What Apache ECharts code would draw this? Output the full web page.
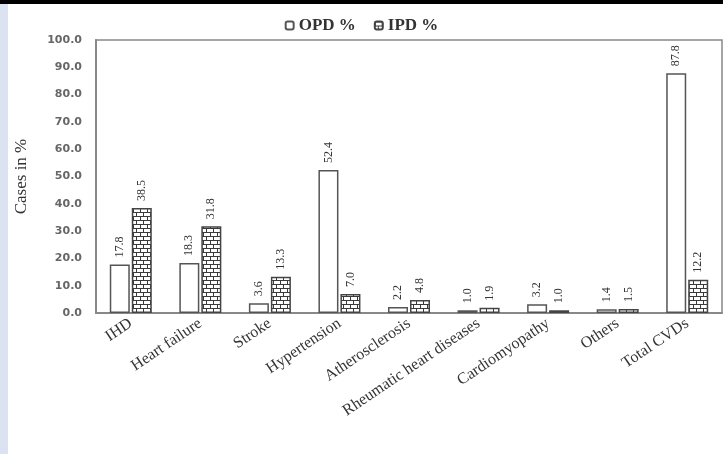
<!DOCTYPE html>
<html>
<head>
<meta charset="utf-8">
<script src="https://cdn.jsdelivr.net/npm/echarts@6/dist/echarts.min.js"></script>
<style>
html,body{margin:0;padding:0;background:#fff;}
#chart{width:723px;height:454px;}
</style>
</head>
<body>
<div id="chart"></div>
<script>
var categories = ['IHD', 'Heart failure', 'Stroke', 'Hypertension', 'Atherosclerosis', 'Rheumatic heart diseases', 'Cardiomyopathy', 'Others', 'Total CVDs'];
var opdValues = [17.8, 18.3, 3.6, 52.4, 2.2, 1.0, 3.2, 1.4, 87.8];
var ipdValues = [38.5, 31.8, 13.3, 7.0, 4.8, 1.9, 1.0, 1.5, 12.2];
var seriesNames = ['OPD %', 'IPD %'];

function brickPattern() {
  var c = document.createElement('canvas');
  c.width = 14; c.height = 8;
  var g = c.getContext('2d');
  g.fillStyle = '#ffffff';
  g.fillRect(0, 0, 14, 8);
  g.strokeStyle = '#3a3a3a';
  g.lineWidth = 1;
  g.beginPath();
  g.moveTo(0, 0.5); g.lineTo(14, 0.5);
  g.moveTo(0, 4.5); g.lineTo(14, 4.5);
  g.moveTo(0.5, 0); g.lineTo(0.5, 4.5);
  g.moveTo(7.5, 0); g.lineTo(7.5, 4.5);
  g.moveTo(3.5, 4.5); g.lineTo(3.5, 8);
  g.moveTo(10.5, 4.5); g.lineTo(10.5, 8);
  g.stroke();
  return c;
}

var chart = echarts.init(document.getElementById('chart'), null, {renderer: 'canvas'});
var labelCfg = {
  show: true,
  position: 'top',
  rotate: 90,
  align: 'left',
  verticalAlign: 'middle',
  distance: 7,
  fontFamily: 'Liberation Serif',
  fontSize: 12,
  color: '#333',
  formatter: function (p) { return p.value.toFixed(1); }
};

chart.setOption({
  animation: false,
  backgroundColor: '#ffffff',
  graphic: [
    {type: 'rect', left: 0, top: 0, shape: {width: 723, height: 4}, style: {fill: '#000'}, z: 100},
    {type: 'rect', left: 0, top: 4, shape: {width: 8, height: 450}, style: {fill: '#dbe3f2'}, z: 100}
  ],
  legend: {
    data: seriesNames,
    top: 12,
    left: 'center',
    itemWidth: 8,
    itemHeight: 8,
    itemGap: 18,
    textStyle: {fontFamily: 'Liberation Serif', fontSize: 17, fontWeight: 'bold', color: '#333'}
  },
  grid: {
    left: 96, right: 1, top: 40, bottom: 141,
    show: true, borderColor: '#888', borderWidth: 1.5, backgroundColor: 'transparent'
  },
  xAxis: {
    type: 'category',
    data: categories,
    axisLine: {lineStyle: {color: '#888', width: 2}},
    axisTick: {show: false},
    axisLabel: {
      interval: 0,
      rotate: 34,
      margin: 9,
      fontFamily: 'Liberation Serif',
      fontSize: 16,
      color: '#333'
    }
  },
  yAxis: {
    type: 'value',
    min: 0, max: 100, interval: 10,
    name: 'Cases in %',
    nameLocation: 'middle',
    nameRotate: 90,
    nameGap: 66,
    nameTextStyle: {fontFamily: 'Liberation Serif', fontSize: 17, color: '#333'},
    axisLine: {show: true, lineStyle: {color: '#888', width: 2}},
    axisTick: {show: false},
    splitLine: {show: false},
    axisLabel: {
      margin: 14,
      fontFamily: 'DejaVu Sans',
      fontSize: 11,
      fontWeight: 'bold',
      color: '#666',
      formatter: function (v) { return v.toFixed(1); }
    }
  },
  series: [
    {
      name: seriesNames[0],
      type: 'bar',
      data: opdValues,
      barWidth: 20,
      barGap: '10%',
      itemStyle: {color: '#ffffff', borderColor: '#555', borderWidth: 1.5},
      label: labelCfg
    },
    {
      name: seriesNames[1],
      type: 'bar',
      data: ipdValues,
      barWidth: 20,
      itemStyle: {color: {image: brickPattern(), repeat: 'repeat'}, borderColor: '#444', borderWidth: 1.5},
      label: labelCfg
    }
  ]
});
</script>
</body>
</html>
